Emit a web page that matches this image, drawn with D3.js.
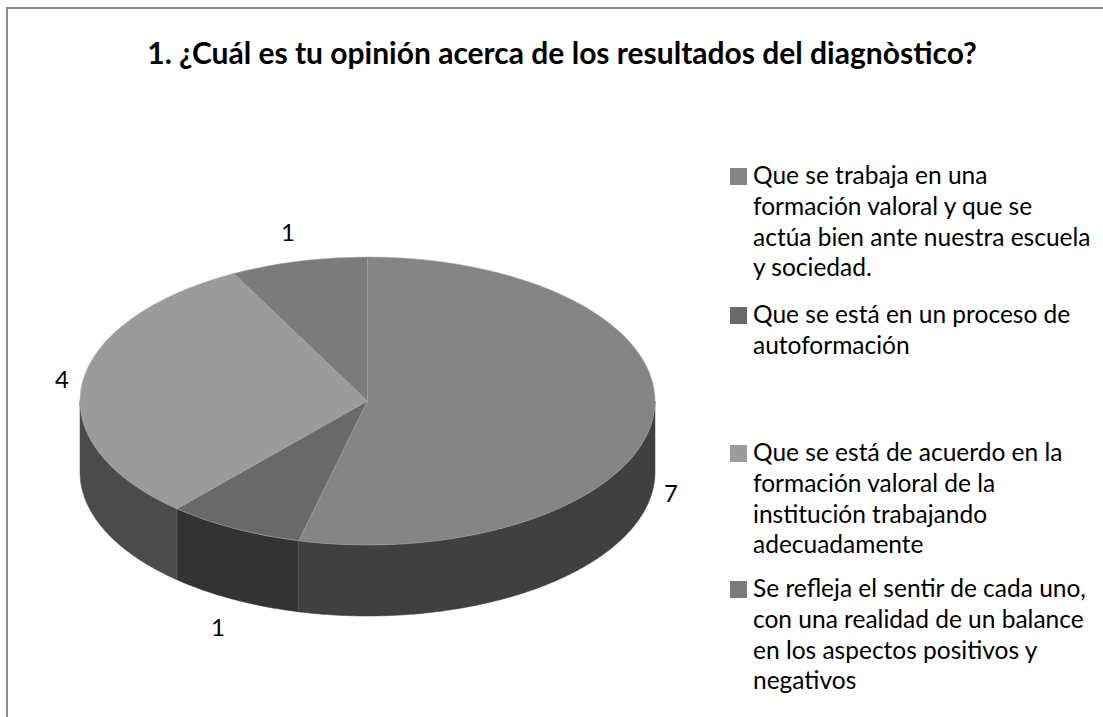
<!DOCTYPE html>
<html>
<head>
<meta charset="utf-8">
<script src="https://cdn.jsdelivr.net/npm/d3@7"></script>
<style>
    html, body { margin: 0; padding: 0; background: #fff; overflow: hidden; }
    text { font-family: Lato, "Noto Sans", sans-serif; fill: #000; }
</style>
</head>
<body>
<div id="chart"></div>
<script>
var title = "1. ¿Cuál es tu opinión acerca de los resultados del diagnòstico?";

var categories = [
    ["Que se trabaja en una", "formación valoral y que se", "actúa bien ante nuestra escuela", "y sociedad."],
    ["Que se está en un proceso de", "autoformación"],
    ["Que se está de acuerdo en la", "formación valoral de la", "institución trabajando", "adecuadamente"],
    ["Se refleja el sentir de cada uno,", "con una realidad de un balance", "en los aspectos positivos y", "negativos"]
];
var values = [7, 1, 4, 1];
var topColors = ["#858585", "#696969", "#9b9b9b", "#7b7b7b"];
var sideColors = ["#404040", "#333333", "#4b4b4b", "#3b3b3b"];

var width = 1103, height = 717;
var cx = 367.5, cy = 401, rx = 287.5, ry = 144, depth = 71;

var svg = d3.select("#chart")
    .append("svg")
    .attr("width", width)
    .attr("height", height);

// chart frame, only top and left show in the picture
svg.append("path")
    .attr("d", "M7," + height + "V8H" + width)
    .attr("fill", "none")
    .attr("stroke", "#8f8f8f")
    .attr("stroke-width", 2);

svg.append("text")
    .attr("x", 562)
    .attr("y", 64)
    .attr("text-anchor", "middle")
    .style("font-size", "30px")
    .style("font-weight", "bold")
    .text(title);

// pie starts at twelve o'clock, clockwise
var pie = d3.pie().sort(null);
var slices = pie(values);

var xAt = function(t) { return cx + rx * Math.sin(t); };
var yAt = function(t) { return cy - ry * Math.cos(t); };

// side wall, only the front half of the ellipse can be seen
var front = [Math.PI / 2, Math.PI * 3 / 2];
var edge = d3.line();
var sidePath = function(d) {
    var a0 = Math.max(d.startAngle, front[0]);
    var a1 = Math.min(d.endAngle, front[1]);
    if (a1 <= a0) {
        return null;
    }
    var ts = d3.range(a0, a1, 0.01).concat([a1]);
    var topEdge = ts.map(function(t) { return [xAt(t), yAt(t)]; });
    var bottomEdge = ts.slice().reverse().map(function(t) { return [xAt(t), yAt(t) + depth]; });
    return edge(topEdge.concat(bottomEdge)) + "Z";
};

svg.append("g")
    .selectAll("path")
    .data(slices)
    .enter()
    .append("path")
    .attr("d", sidePath)
    .attr("fill", function(d, i) { return sideColors[i]; })
    .attr("stroke", function(d, i) { return sideColors[i]; })
    .attr("stroke-width", 0.5);

// seams between the walls
svg.append("g")
    .selectAll("line")
    .data(slices.filter(function(d) { return d.endAngle > front[0] && d.endAngle < front[1]; }))
    .enter()
    .append("line")
    .attr("x1", function(d) { return xAt(d.endAngle); })
    .attr("x2", function(d) { return xAt(d.endAngle); })
    .attr("y1", function(d) { return yAt(d.endAngle); })
    .attr("y2", function(d) { return yAt(d.endAngle) + depth; })
    .attr("stroke", "#5e5e5e")
    .attr("stroke-width", 0.7);

// top face, a flat d3 pie squashed to the ellipse
var arc = d3.arc().innerRadius(0).outerRadius(rx);
svg.append("g")
    .attr("transform", "translate(" + cx + "," + cy + ") scale(1," + (ry / rx) + ")")
    .selectAll("path")
    .data(slices)
    .enter()
    .append("path")
    .attr("d", arc)
    .attr("fill", function(d, i) { return topColors[i]; })
    .attr("stroke", "#a3a3a3")
    .attr("stroke-width", 0.5)
    .attr("vector-effect", "non-scaling-stroke");

// data labels
var labelPos = [[671, 502], [218, 636], [62, 388], [288, 241]];
svg.append("g")
    .selectAll("text")
    .data(values)
    .enter()
    .append("text")
    .attr("x", function(d, i) { return labelPos[i][0]; })
    .attr("y", function(d, i) { return labelPos[i][1]; })
    .attr("text-anchor", "middle")
    .style("font-size", "24px")
    .text(function(d) { return d; });

// legend, one baseline per entry
var legendBase = [184, 323, 461, 597];
var legend = svg.append("g")
    .selectAll("g")
    .data(categories)
    .enter()
    .append("g")
    .attr("transform", function(d, i) { return "translate(730," + legendBase[i] + ")"; });

legend.append("rect")
    .attr("width", 17)
    .attr("height", 17)
    .attr("y", -16)
    .attr("fill", function(d, i) { return topColors[i]; });

legend.selectAll("text")
    .data(function(d) { return d; })
    .enter()
    .append("text")
    .attr("x", 23)
    .attr("y", function(d, i) { return i * 30.8; })
    .style("font-size", "24.5px")
    .text(function(d) { return d; });
</script>
</body>
</html>
